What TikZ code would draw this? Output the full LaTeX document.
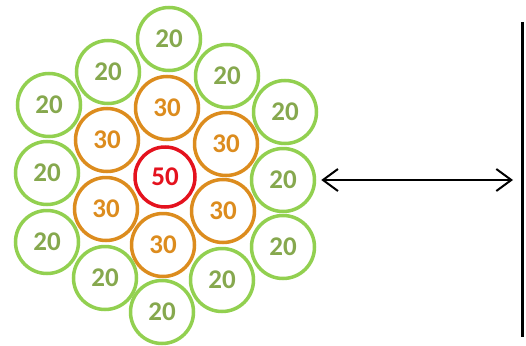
\documentclass[tikz,border=0pt]{standalone}
\usepackage{fontspec}
\setmainfont{Carlito}
\usepackage{tikz}
\usetikzlibrary{arrows.meta}

\definecolor{ringgreen}{RGB}{146,208,80}
\definecolor{textgreen}{RGB}{134,168,78}
\definecolor{ringorange}{RGB}{220,140,30}
\definecolor{ringred}{RGB}{228,18,30}

\tikzset{
  pin/.style={circle, line width=3.5pt, minimum size=63pt, inner sep=0pt,
    font=\fontsize{27}{27}\selectfont\bfseries},
  outerpin/.style={pin, draw=ringgreen, text=textgreen},
  midpin/.style={pin, draw=ringorange, text=ringorange},
  corepin/.style={pin, draw=ringred, text=ringred, minimum size=60pt},
}

\begin{document}
\begin{tikzpicture}[x=1pt, y=-1pt]
\useasboundingbox (0,0) rectangle (526,345);
% centre
\node[corepin] (c) at (165,177) {50};
% inner ring
\foreach \n/\x/\y in {m1/167/108, m2/226/144, m3/223/211, m4/163/245, m5/106/209, m6/107/140}
  \node[midpin] (\n) at (\x,\y) {30};
% outer ring
\foreach \n/\x/\y in {o1/169/39, o2/227/76, o3/285/112, o4/283/180, o5/283/247, o6/222/280,
    o7/162/312, o8/105/278, o9/47/242, o10/47/173, o11/49/105, o12/108/72}
  \node[outerpin] (\n) at (\x,\y) {20};
% wall
\coordinate (walltop) at (522,22);
\coordinate (wallbot) at (522,337);
\coordinate (wallmid) at (522,180);
\draw[line width=3pt] (walltop) -- (wallbot);
\draw[line width=2pt, {Straight Barb[length=15pt,width=22pt]}-{Straight Barb[length=15pt,width=22pt]},
  shorten <=5pt, shorten >=9pt] (o4.east) -- (wallmid);
\end{tikzpicture}
\end{document}
